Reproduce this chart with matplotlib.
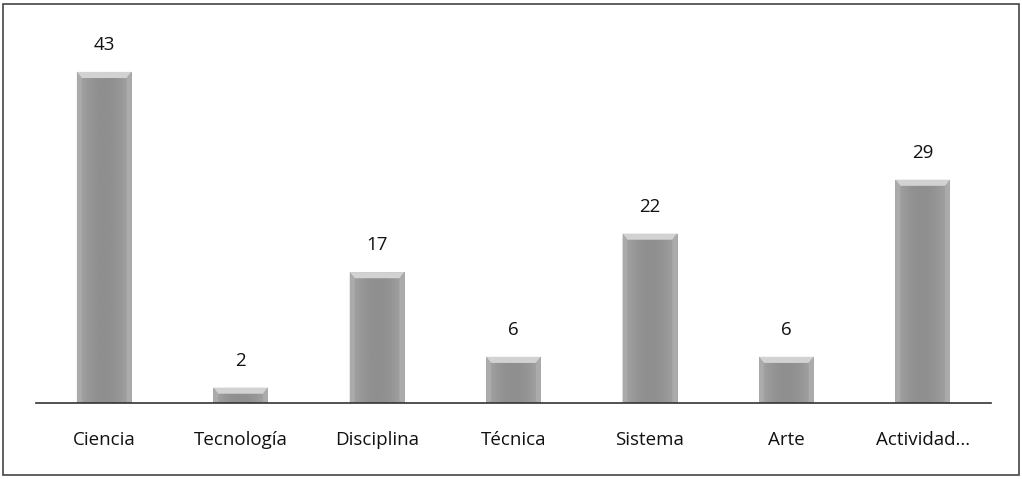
import numpy as np
import matplotlib; matplotlib.use("Agg")
import matplotlib.pyplot as plt
from matplotlib.patches import Rectangle, Polygon

categories = ["Ciencia", "Tecnología", "Disciplina", "Técnica", "Sistema", "Arte", "Actividad..."]
values = [43, 2, 17, 6, 22, 6, 29]

plt.rcParams["font.family"] = ["Open Sans", "DejaVu Sans"]
fig = plt.figure(figsize=(10.22, 4.79), dpi=100)
ax = fig.add_axes([0.0352, 0.1587, 0.9344, 0.8038])
ax.set_xlim(-0.5, len(categories) - 0.5)
ax.set_ylim(0, 50)

W = 0.4
cap = 0.8        # cap height in data units
inset = 0.035    # bevel inset in data units
# horizontal gradient: lighter edges, darker centre
u = np.linspace(-1, 1, 200)
shade = 0.56 + 0.10 * np.abs(u) ** 2
grad = np.tile(shade, (2, 1))
for i, v in enumerate(values):
    bars = ax.bar(i, v, width=W, color="#929292", zorder=2)
    p = bars.patches[0]
    im = ax.imshow(grad, cmap="gray", vmin=0, vmax=1, aspect="auto",
                   extent=(i - W / 2, i + W / 2, 0, v), zorder=3, interpolation="bilinear")
    im.set_clip_path(p)
    x0, x1 = i - W / 2, i + W / 2
    ax.add_patch(Polygon([(x0, v), (x1, v), (x1 - inset, v - cap), (x0 + inset, v - cap)],
                         closed=True, facecolor="#d2d2d2", edgecolor="none", zorder=4))
    ax.add_patch(Polygon([(x0, v), (x0 + inset, v - cap), (x0 + inset, 0), (x0, 0)],
                         closed=True, facecolor="#ababab", edgecolor="none", zorder=4))
    ax.add_patch(Polygon([(x1, v), (x1 - inset, v - cap), (x1 - inset, 0), (x1, 0)],
                         closed=True, facecolor="#ababab", edgecolor="none", zorder=4))
    ax.text(i, v + 3.5, str(v), ha="center", va="center", fontsize=13.5, color="#111111")

ax.set_xticks(range(len(categories)))
ax.set_xticklabels(categories, fontsize=13.5, color="#111111")
ax.tick_params(axis="x", length=0, pad=20)
ax.set_yticks([])
for s in ["top", "right", "left"]:
    ax.spines[s].set_visible(False)
ax.spines["bottom"].set_color("#333333")
ax.spines["bottom"].set_linewidth(1.2)
ax.spines["bottom"].set_zorder(5)

fig.patches.append(Rectangle((3 / 1022, 4 / 479), 1016 / 1022, 471 / 479, transform=fig.transFigure,
                             fill=False, edgecolor="#444444", linewidth=1.2))
fig.savefig("out.png", dpi=100)
